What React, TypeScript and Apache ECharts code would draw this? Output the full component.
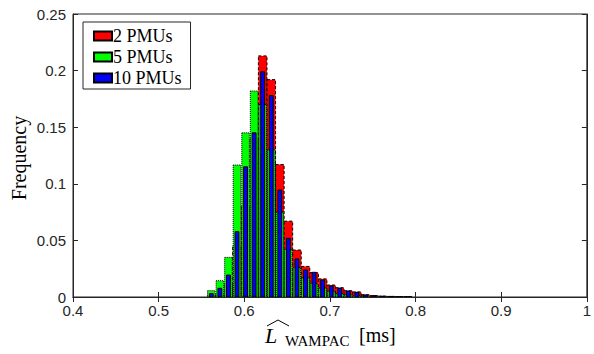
import React, { useEffect, useRef } from "react";
import * as echarts from "echarts";

// Histogram bin centres (bin width 0.01)
const binCenters = [
  0.5615, 0.5715, 0.5815, 0.5915, 0.6015, 0.6115, 0.6215, 0.6315, 0.6415, 0.6515, 0.6615, 0.6715,
  0.6815, 0.6915, 0.7015, 0.7115, 0.7215, 0.7315, 0.7415, 0.7515, 0.7615, 0.7715, 0.7815, 0.7915,
];
const freq2 = [
  0.001, 0.003, 0.012, 0.045, 0.08, 0.14, 0.213, 0.192, 0.117, 0.067, 0.0415, 0.027,
  0.0215, 0.016, 0.0106, 0.0082, 0.0055, 0.0045, 0.002, 0.0012, 0.0008, 0.0005, 0.0004, 0.0003,
];
const freq5 = [
  0.0056, 0.0144, 0.035, 0.1166, 0.145, 0.182, 0.17, 0.13, 0.075, 0.042, 0.026, 0.017,
  0.012, 0.008, 0.005, 0.003, 0.002, 0.0012, 0.0008, 0.0005, 0.0003, 0.0002, 0.0001, 0,
];
const freq10 = [
  0.003, 0.0077, 0.0194, 0.0577, 0.115, 0.145, 0.199, 0.178, 0.0945, 0.0518, 0.0336, 0.0239,
  0.0218, 0.015, 0.0097, 0.0077, 0.0053, 0.0041, 0.0018, 0.0012, 0.0007, 0.0005, 0.0003, 0.0002,
];
const seriesNames = ["2 PMUs", "5 PMUs", "10 PMUs"];
const xTickLabels = ["0.4", "0.5", "0.6", "0.7", "0.8", "0.9", "1"];
const yTickLabels = ["0", "0.05", "0.1", "0.15", "0.2", "0.25"];

const AXIS = "#262626";
const SANS = "'Liberation Sans', Arial, Helvetica, sans-serif";
const SERIF = "'Liberation Serif', 'Times New Roman', serif";

function makeSeries(name: string, values: number[], color: string, width: number, dash: any, dashType: any) {
  return {
    type: "custom",
    name,
    xAxisIndex: 0,
    yAxisIndex: 0,
    clip: true,
    itemStyle: { color, borderColor: "#000", borderWidth: 1, borderType: dashType },
    data: binCenters.map((c, i) => [c, values[i]]),
    renderItem: (params: any, api: any) => {
      const c = api.value(0);
      const v = api.value(1);
      if (!v) return null;
      const p0 = api.coord([c - width / 2, v]);
      const p1 = api.coord([c + width / 2, 0]);
      return {
        type: "rect",
        shape: { x: p0[0], y: p0[1], width: p1[0] - p0[0], height: p1[1] - p0[1] },
        style: { fill: color, stroke: "#000", lineWidth: 1, lineDash: dash },
      };
    },
  };
}

export default function App() {
  const ref = useRef<HTMLDivElement>(null);
  useEffect(() => {
    if (!ref.current) return;
    const chart = echarts.init(ref.current, null, { renderer: "svg" });
    const tickFont = { fontFamily: SANS, fontSize: 15, color: AXIS };
    const option: any = {
      animation: false,
      backgroundColor: "#fff",
      grid: { left: 73, right: 3, top: 14, bottom: 57, show: true, borderColor: AXIS, borderWidth: 1 },
      xAxis: [
        {
          type: "value",
          min: 0.4,
          max: 1,
          interval: 0.1,
          axisLine: { show: true, lineStyle: { color: AXIS, width: 1 } },
          axisTick: { show: true, inside: true, length: 5, lineStyle: { color: AXIS } },
          splitLine: { show: false },
          axisLabel: {
            ...tickFont,
            margin: 6,
            formatter: (v: number) => xTickLabels[Math.round((v - 0.4) / 0.1)] ?? "",
          },
        },
        {
          type: "value",
          position: "top",
          min: 0.4,
          max: 1,
          interval: 0.1,
          axisLine: { show: true, lineStyle: { color: AXIS, width: 1 } },
          axisTick: { show: true, inside: true, length: 5, lineStyle: { color: AXIS } },
          splitLine: { show: false },
          axisLabel: { show: false },
        },
      ],
      yAxis: [
        {
          type: "value",
          min: 0,
          max: 0.25,
          interval: 0.05,
          axisLine: { show: true, lineStyle: { color: AXIS, width: 1 } },
          axisTick: { show: true, inside: true, length: 5, lineStyle: { color: AXIS } },
          splitLine: { show: false },
          axisLabel: {
            ...tickFont,
            margin: 7,
            formatter: (v: number) => yTickLabels[Math.round(v / 0.05)] ?? "",
          },
        },
        {
          type: "value",
          position: "right",
          min: 0,
          max: 0.25,
          interval: 0.05,
          axisLine: { show: true, lineStyle: { color: AXIS, width: 1 } },
          axisTick: { show: true, inside: true, length: 5, lineStyle: { color: AXIS } },
          splitLine: { show: false },
          axisLabel: { show: false },
        },
      ],
      legend: {
        left: 83,
        top: 22,
        orient: "vertical",
        icon: "rect",
        itemWidth: 18,
        itemHeight: 9,
        itemGap: 3,
        padding: [5, 9, 2, 10],
        borderColor: "#262626",
        borderWidth: 1,
        backgroundColor: "#fff",
        textStyle: { fontFamily: SERIF, fontSize: 18, lineHeight: 18, color: "#000", padding: [0, 0, 0, -4] },
        data: seriesNames,
      },
      series: [
        makeSeries(seriesNames[0], freq2, "#ff0000", 0.01, [3, 2], "dashed"),
        makeSeries(seriesNames[1], freq5, "#00ff00", 0.0088, [1, 1], "dotted"),
        makeSeries(seriesNames[2], freq10, "#0000ff", 0.0045, null, "solid"),
      ],
      graphic: [
        {
          type: "text",
          x: 19,
          y: 158,
          rotation: Math.PI / 2,
          style: {
            text: "Frequency",
            fontFamily: SERIF,
            fontSize: 20,
            fill: "#000",
            textAlign: "center",
            textVerticalAlign: "middle",
          },
        },
        {
          type: "text",
          x: 265,
          y: 335,
          style: {
            text: "L",
            fontFamily: SERIF,
            fontStyle: "italic",
            fontSize: 22,
            fill: "#000",
            textAlign: "left",
            textVerticalAlign: "middle",
          },
        },
        {
          type: "polyline",
          shape: { points: [[267, 326], [278, 320], [289, 326]] },
          style: { stroke: "#000", lineWidth: 1, fill: "none" },
        },
        {
          type: "text",
          x: 285,
          y: 341,
          style: {
            text: "WAMPAC",
            fontFamily: SERIF,
            fontSize: 15,
            fill: "#000",
            textAlign: "left",
            textVerticalAlign: "middle",
          },
        },
        {
          type: "text",
          x: 359,
          y: 335,
          style: {
            text: "[ms]",
            fontFamily: SERIF,
            fontSize: 20,
            fill: "#000",
            textAlign: "left",
            textVerticalAlign: "middle",
          },
        },
      ],
    };
    chart.setOption(option);
    return () => chart.dispose();
  }, []);
  return <div ref={ref} style={{ position: "fixed", left: 0, top: 0, width: 594, height: 354 }} />;
}
